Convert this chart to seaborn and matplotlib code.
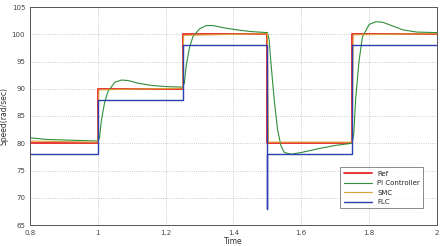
import numpy as np
import pandas as pd
import matplotlib
matplotlib.use("Agg")
import matplotlib.pyplot as plt
import seaborn as sns

# Data
ref_t = [0.8, 1.0, 1.0, 1.25, 1.25, 1.5, 1.5, 1.75, 1.75, 2.0]
ref_v = [80, 80, 90, 90, 100, 100, 80, 80, 100, 100]

pi_t = [0.8, 0.85, 0.9, 0.95, 1.0, 1.005, 1.01, 1.02, 1.03, 1.05, 1.07, 1.09, 1.12, 1.16, 1.2, 1.25,
        1.255, 1.26, 1.27, 1.28, 1.3, 1.32, 1.34, 1.37, 1.41, 1.45, 1.5,
        1.505, 1.51, 1.52, 1.53, 1.54, 1.55, 1.57, 1.6, 1.65, 1.7, 1.75,
        1.755, 1.76, 1.77, 1.78, 1.8, 1.82, 1.84, 1.87, 1.9, 1.94, 2.0]
pi_v = [81.0, 80.7, 80.6, 80.5, 80.4, 81.0, 84.0, 87.5, 89.5, 91.2, 91.6, 91.5, 91.0, 90.6, 90.4, 90.3,
        91.0, 94.0, 97.5, 99.5, 101.0, 101.6, 101.6, 101.2, 100.8, 100.5, 100.3,
        99.0, 95.0, 88.0, 82.5, 79.5, 78.3, 78.0, 78.3, 79.0, 79.6, 80.0,
        82.0, 88.0, 95.0, 99.5, 101.8, 102.3, 102.2, 101.5, 100.8, 100.4, 100.3]

smc_t = [0.8, 1.0, 1.003, 1.25, 1.253, 1.5, 1.503, 1.75, 1.753, 2.0]
smc_v = [80.4, 80.2, 89.8, 90.1, 99.8, 100.1, 80.2, 80.2, 99.9, 100.1]

flc_t = [0.8, 1.0, 1.0, 1.25, 1.25, 1.5, 1.5, 1.5, 1.75, 1.75, 2.0]
flc_v = [78, 78, 88, 88, 98, 98, 68, 78, 78, 98, 98]

names = ["Ref", "PI Controller", "SMC", "FLC"]
colors = ["#e8262b", "#2f8f3a", "#d9a13a", "#2c3fb0"]

frames = []
for n, t, v in zip(names, [ref_t, pi_t, smc_t, flc_t], [ref_v, pi_v, smc_v, flc_v]):
    frames.append(pd.DataFrame({"Time": t, "Speed": v, "Series": n, "order": np.arange(len(t))}))
df = pd.concat(frames, ignore_index=True)

sns.set_style("white")
fig = plt.figure(figsize=(4.47, 2.46), dpi=100)
ax = fig.add_axes([30 / 447, 21 / 246, 407 / 447, 218 / 246])

widths = {"Ref": 1.3, "PI Controller": 0.8, "SMC": 0.8, "FLC": 1.0}
for n, c in zip(names, colors):
    sub = df[df.Series == n]
    sns.lineplot(data=sub, x="Time", y="Speed", color=c, estimator=None, sort=False,
                 lw=widths[n], label=n, ax=ax)

ax.set_xlim(0.8, 2.0)
ax.set_ylim(65, 105)
ax.set_xticks([0.8, 1.0, 1.2, 1.4, 1.6, 1.8, 2.0])
ax.set_xticklabels(["0.8", "1", "1.2", "1.4", "1.6", "1.8", "2"])
ax.set_yticks(range(65, 106, 5))
ax.tick_params(labelsize=5, direction="in", length=2, colors="#444444")
ax.grid(True, linestyle=":", color="#bbbbbb", lw=0.6)
for s in ax.spines.values():
    s.set_color("#555555")
    s.set_linewidth(0.7)
ax.set_xlabel("Time", fontsize=5.5, labelpad=1, color="#333333")
ax.set_ylabel("Speed(rad/sec)", fontsize=5.5, labelpad=2, color="#333333")
leg = ax.legend(loc="lower right", fontsize=5, frameon=True, fancybox=False,
                edgecolor="#555555", bbox_to_anchor=(0.975, 0.06), handlelength=4,
                borderpad=0.5, labelspacing=0.5)
leg.get_frame().set_linewidth(0.6)

fig.savefig("out.png", dpi=100)
